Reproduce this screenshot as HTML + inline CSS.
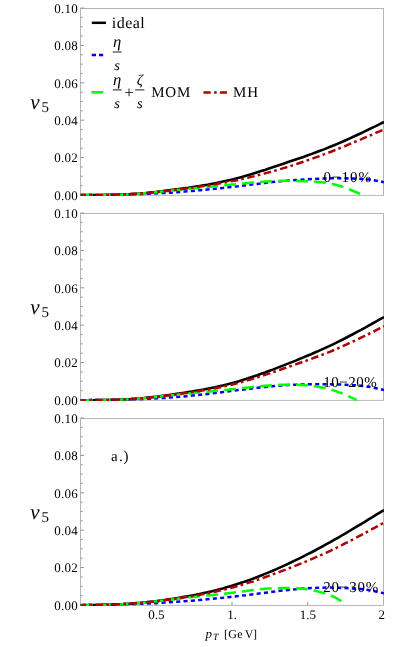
<!DOCTYPE html>
<html><head><meta charset="utf-8"><style>
html,body{margin:0;padding:0;background:#fff;}
svg{display:block;will-change:transform;}
text{font-family:"Liberation Serif",serif;fill:#000;text-rendering:geometricPrecision;}
.tk{font-size:13px;letter-spacing:0.3px;}
.lg{font-size:16px;}
.pc{font-size:15px;letter-spacing:0.5px;}
.it{font-size:15px;font-style:italic;}
</style></head><body>
<svg width="415" height="647" viewBox="0 0 415 647">
<rect width="415" height="647" fill="#fff"/>
<clipPath id="c0"><rect x="80.0" y="8.0" width="304.0" height="187.9"/></clipPath>
<g id="p0">
<rect x="80.5" y="8.5" width="303.0" height="186.9" fill="none" stroke="#b6b6b6" stroke-width="1"/>
<line x1="80.5" x2="84.1" y1="194.95" y2="194.95" stroke="#949494" stroke-width="1"/>
<text class="tk" x="78.1" y="199.80" text-anchor="end">0.00</text>
<line x1="80.5" x2="82.6" y1="185.61" y2="185.61" stroke="#949494" stroke-width="1"/>
<line x1="80.5" x2="82.6" y1="176.26" y2="176.26" stroke="#949494" stroke-width="1"/>
<line x1="80.5" x2="82.6" y1="166.92" y2="166.92" stroke="#949494" stroke-width="1"/>
<line x1="80.5" x2="84.1" y1="157.57" y2="157.57" stroke="#949494" stroke-width="1"/>
<text class="tk" x="78.1" y="162.42" text-anchor="end">0.02</text>
<line x1="80.5" x2="82.6" y1="148.23" y2="148.23" stroke="#949494" stroke-width="1"/>
<line x1="80.5" x2="82.6" y1="138.88" y2="138.88" stroke="#949494" stroke-width="1"/>
<line x1="80.5" x2="82.6" y1="129.54" y2="129.54" stroke="#949494" stroke-width="1"/>
<line x1="80.5" x2="84.1" y1="120.19" y2="120.19" stroke="#949494" stroke-width="1"/>
<text class="tk" x="78.1" y="125.04" text-anchor="end">0.04</text>
<line x1="80.5" x2="82.6" y1="110.84" y2="110.84" stroke="#949494" stroke-width="1"/>
<line x1="80.5" x2="82.6" y1="101.50" y2="101.50" stroke="#949494" stroke-width="1"/>
<line x1="80.5" x2="82.6" y1="92.16" y2="92.16" stroke="#949494" stroke-width="1"/>
<line x1="80.5" x2="84.1" y1="82.81" y2="82.81" stroke="#949494" stroke-width="1"/>
<text class="tk" x="78.1" y="87.66" text-anchor="end">0.06</text>
<line x1="80.5" x2="82.6" y1="73.47" y2="73.47" stroke="#949494" stroke-width="1"/>
<line x1="80.5" x2="82.6" y1="64.12" y2="64.12" stroke="#949494" stroke-width="1"/>
<line x1="80.5" x2="82.6" y1="54.78" y2="54.78" stroke="#949494" stroke-width="1"/>
<line x1="80.5" x2="84.1" y1="45.43" y2="45.43" stroke="#949494" stroke-width="1"/>
<text class="tk" x="78.1" y="50.28" text-anchor="end">0.08</text>
<line x1="80.5" x2="82.6" y1="36.08" y2="36.08" stroke="#949494" stroke-width="1"/>
<line x1="80.5" x2="82.6" y1="26.74" y2="26.74" stroke="#949494" stroke-width="1"/>
<line x1="80.5" x2="82.6" y1="17.39" y2="17.39" stroke="#949494" stroke-width="1"/>
<line x1="80.5" x2="84.1" y1="8.05" y2="8.05" stroke="#949494" stroke-width="1"/>
<text class="tk" x="78.1" y="12.90" text-anchor="end">0.10</text>
<text x="30.3" y="108.5" font-size="21" font-style="italic">v</text><text x="41.5" y="112.3" font-size="15">5</text>
<path d="M80.7,195.1 L84.5,195.1 L88.4,195.1 L92.2,195.1 L96.1,195.0 L99.9,195.0 L103.7,195.0 L107.6,194.9 L111.4,194.8 L115.3,194.7 L119.1,194.6 L122.9,194.5 L126.8,194.3 L130.6,194.1 L134.4,193.8 L138.3,193.6 L142.1,193.3 L146.0,193.0 L149.8,192.6 L153.6,192.2 L157.5,191.8 L161.3,191.4 L165.2,190.9 L169.0,190.4 L172.8,189.9 L176.7,189.4 L180.5,188.9 L184.4,188.3 L188.2,187.8 L192.0,187.2 L195.9,186.6 L199.7,186.0 L203.6,185.3 L207.4,184.7 L211.2,184.0 L215.1,183.2 L218.9,182.4 L222.8,181.6 L226.6,180.8 L230.4,179.9 L234.3,178.9 L238.1,177.9 L241.9,176.9 L245.8,175.8 L249.6,174.7 L253.5,173.5 L257.3,172.3 L261.1,171.1 L265.0,169.9 L268.8,168.6 L272.7,167.3 L276.5,166.0 L280.3,164.7 L284.2,163.4 L288.0,162.1 L291.9,160.8 L295.7,159.5 L299.5,158.2 L303.4,156.9 L307.2,155.5 L311.1,154.1 L314.9,152.7 L318.7,151.3 L322.6,149.9 L326.4,148.4 L330.3,146.8 L334.1,145.3 L337.9,143.6 L341.8,142.0 L345.6,140.3 L349.4,138.6 L353.3,136.8 L357.1,135.0 L361.0,133.2 L364.8,131.4 L368.6,129.5 L372.5,127.6 L376.3,125.8 L380.2,123.9 L384.0,122.0" fill="none" clip-path="url(#c0)" stroke="#000" stroke-width="2.6"/>
<path d="M80.7,195.1 L84.5,195.1 L88.4,195.1 L92.2,195.0 L96.1,195.0 L99.9,195.0 L103.7,194.9 L107.6,194.9 L111.4,194.8 L115.3,194.8 L119.1,194.7 L122.9,194.6 L126.8,194.5 L130.6,194.4 L134.4,194.3 L138.3,194.2 L142.1,194.1 L146.0,193.9 L149.8,193.7 L153.6,193.5 L157.5,193.3 L161.3,193.1 L165.2,192.9 L169.0,192.7 L172.8,192.4 L176.7,192.2 L180.5,191.9 L184.4,191.6 L188.2,191.3 L192.0,190.9 L195.9,190.6 L199.7,190.2 L203.6,189.9 L207.4,189.5 L211.2,189.1 L215.1,188.7 L218.9,188.3 L222.8,187.9 L226.6,187.5 L230.4,187.0 L234.3,186.6 L238.1,186.2 L241.9,185.7 L245.8,185.2 L249.6,184.8 L253.5,184.3 L257.3,183.9 L261.1,183.4 L265.0,183.0 L268.8,182.5 L272.7,182.1 L276.5,181.7 L280.3,181.3 L284.2,181.0 L288.0,180.6 L291.9,180.3 L295.7,180.0 L299.5,179.8 L303.4,179.5 L307.2,179.3 L311.1,179.1 L314.9,178.9 L318.7,178.7 L322.6,178.5 L326.4,178.4 L330.3,178.3 L334.1,178.2 L337.9,178.2 L341.8,178.2 L345.6,178.3 L349.4,178.4 L353.3,178.5 L357.1,178.7 L361.0,179.0 L364.8,179.2 L368.6,179.6 L372.5,180.1 L376.3,180.7 L380.2,181.4 L384.0,182.2" fill="none" clip-path="url(#c0)" stroke="#0000ff" stroke-width="2.5" stroke-dasharray="4.1 3.25"/>
<path d="M80.7,195.1 L84.2,195.1 L87.8,195.1 L91.3,195.1 L94.9,195.1 L98.4,195.1 L101.9,195.0 L105.5,195.0 L109.0,194.9 L112.6,194.9 L116.1,194.8 L119.6,194.7 L123.2,194.5 L126.7,194.4 L130.3,194.2 L133.8,194.0 L137.3,193.8 L140.9,193.5 L144.4,193.2 L148.0,192.9 L151.5,192.6 L155.1,192.3 L158.6,191.9 L162.1,191.6 L165.7,191.2 L169.2,190.9 L172.8,190.5 L176.3,190.1 L179.8,189.7 L183.4,189.4 L186.9,189.0 L190.5,188.6 L194.0,188.3 L197.5,187.9 L201.1,187.6 L204.6,187.2 L208.2,186.9 L211.7,186.5 L215.2,186.2 L218.8,185.9 L222.3,185.5 L225.9,185.2 L229.4,184.8 L232.9,184.5 L236.5,184.2 L240.0,183.8 L243.6,183.5 L247.1,183.1 L250.6,182.8 L254.2,182.5 L257.7,182.2 L261.3,181.9 L264.8,181.6 L268.3,181.4 L271.9,181.2 L275.4,181.0 L279.0,180.9 L282.5,180.8 L286.0,180.8 L289.6,180.8 L293.1,180.8 L296.7,180.9 L300.2,181.0 L303.8,181.2 L307.3,181.3 L310.8,181.5 L314.4,181.7 L317.9,181.9 L321.5,182.3 L325.0,182.7 L328.5,183.3 L332.1,184.0 L335.6,184.8 L339.2,185.8 L342.7,186.9 L346.2,188.2 L349.8,189.5 L353.3,191.0 L356.9,192.5 L360.4,194.0" fill="none" clip-path="url(#c0)" stroke="#00ff00" stroke-width="2.5" stroke-dasharray="11.9 6.1"/>
<path d="M80.7,195.1 L84.5,195.1 L88.4,195.1 L92.2,195.0 L96.1,195.0 L99.9,195.0 L103.7,194.9 L107.6,194.9 L111.4,194.8 L115.3,194.7 L119.1,194.6 L122.9,194.4 L126.8,194.3 L130.6,194.1 L134.4,193.9 L138.3,193.6 L142.1,193.3 L146.0,193.0 L149.8,192.7 L153.6,192.3 L157.5,191.9 L161.3,191.5 L165.2,191.1 L169.0,190.7 L172.8,190.2 L176.7,189.7 L180.5,189.3 L184.4,188.8 L188.2,188.2 L192.0,187.7 L195.9,187.2 L199.7,186.6 L203.6,186.0 L207.4,185.5 L211.2,184.8 L215.1,184.2 L218.9,183.5 L222.8,182.9 L226.6,182.2 L230.4,181.4 L234.3,180.7 L238.1,179.9 L241.9,179.0 L245.8,178.2 L249.6,177.3 L253.5,176.4 L257.3,175.4 L261.1,174.4 L265.0,173.4 L268.8,172.4 L272.7,171.3 L276.5,170.2 L280.3,169.1 L284.2,167.9 L288.0,166.8 L291.9,165.6 L295.7,164.3 L299.5,163.0 L303.4,161.8 L307.2,160.4 L311.1,159.1 L314.9,157.7 L318.7,156.3 L322.6,154.9 L326.4,153.4 L330.3,152.0 L334.1,150.5 L337.9,148.9 L341.8,147.4 L345.6,145.8 L349.4,144.2 L353.3,142.6 L357.1,141.0 L361.0,139.4 L364.8,137.7 L368.6,136.1 L372.5,134.4 L376.3,132.7 L380.2,131.1 L384.0,129.4" fill="none" clip-path="url(#c0)" stroke="#b00000" stroke-width="2.5" stroke-dasharray="7.6 3.2 2.7 3.5" stroke-dashoffset="2.2"/>
</g>
<clipPath id="c1"><rect x="80.0" y="213.0" width="304.0" height="187.9"/></clipPath>
<g id="p1">
<rect x="80.5" y="213.5" width="303.0" height="186.9" fill="none" stroke="#b6b6b6" stroke-width="1"/>
<line x1="80.5" x2="84.1" y1="399.95" y2="399.95" stroke="#949494" stroke-width="1"/>
<text class="tk" x="78.1" y="404.80" text-anchor="end">0.00</text>
<line x1="80.5" x2="82.6" y1="390.60" y2="390.60" stroke="#949494" stroke-width="1"/>
<line x1="80.5" x2="82.6" y1="381.26" y2="381.26" stroke="#949494" stroke-width="1"/>
<line x1="80.5" x2="82.6" y1="371.92" y2="371.92" stroke="#949494" stroke-width="1"/>
<line x1="80.5" x2="84.1" y1="362.57" y2="362.57" stroke="#949494" stroke-width="1"/>
<text class="tk" x="78.1" y="367.42" text-anchor="end">0.02</text>
<line x1="80.5" x2="82.6" y1="353.22" y2="353.22" stroke="#949494" stroke-width="1"/>
<line x1="80.5" x2="82.6" y1="343.88" y2="343.88" stroke="#949494" stroke-width="1"/>
<line x1="80.5" x2="82.6" y1="334.54" y2="334.54" stroke="#949494" stroke-width="1"/>
<line x1="80.5" x2="84.1" y1="325.19" y2="325.19" stroke="#949494" stroke-width="1"/>
<text class="tk" x="78.1" y="330.04" text-anchor="end">0.04</text>
<line x1="80.5" x2="82.6" y1="315.84" y2="315.84" stroke="#949494" stroke-width="1"/>
<line x1="80.5" x2="82.6" y1="306.50" y2="306.50" stroke="#949494" stroke-width="1"/>
<line x1="80.5" x2="82.6" y1="297.16" y2="297.16" stroke="#949494" stroke-width="1"/>
<line x1="80.5" x2="84.1" y1="287.81" y2="287.81" stroke="#949494" stroke-width="1"/>
<text class="tk" x="78.1" y="292.66" text-anchor="end">0.06</text>
<line x1="80.5" x2="82.6" y1="278.46" y2="278.46" stroke="#949494" stroke-width="1"/>
<line x1="80.5" x2="82.6" y1="269.12" y2="269.12" stroke="#949494" stroke-width="1"/>
<line x1="80.5" x2="82.6" y1="259.78" y2="259.78" stroke="#949494" stroke-width="1"/>
<line x1="80.5" x2="84.1" y1="250.43" y2="250.43" stroke="#949494" stroke-width="1"/>
<text class="tk" x="78.1" y="255.28" text-anchor="end">0.08</text>
<line x1="80.5" x2="82.6" y1="241.09" y2="241.09" stroke="#949494" stroke-width="1"/>
<line x1="80.5" x2="82.6" y1="231.74" y2="231.74" stroke="#949494" stroke-width="1"/>
<line x1="80.5" x2="82.6" y1="222.40" y2="222.40" stroke="#949494" stroke-width="1"/>
<line x1="80.5" x2="84.1" y1="213.05" y2="213.05" stroke="#949494" stroke-width="1"/>
<text class="tk" x="78.1" y="217.90" text-anchor="end">0.10</text>
<text x="30.3" y="313.5" font-size="21" font-style="italic">v</text><text x="41.5" y="317.3" font-size="15">5</text>
<path d="M80.7,400.2 L84.5,400.2 L88.4,400.2 L92.2,400.2 L96.1,400.1 L99.9,400.1 L103.7,400.1 L107.6,400.0 L111.4,399.9 L115.3,399.8 L119.1,399.7 L122.9,399.5 L126.8,399.3 L130.6,399.1 L134.4,398.8 L138.3,398.5 L142.1,398.2 L146.0,397.8 L149.8,397.4 L153.6,397.0 L157.5,396.6 L161.3,396.1 L165.2,395.6 L169.0,395.0 L172.8,394.5 L176.7,393.9 L180.5,393.3 L184.4,392.7 L188.2,392.1 L192.0,391.5 L195.9,390.8 L199.7,390.2 L203.6,389.5 L207.4,388.7 L211.2,388.0 L215.1,387.2 L218.9,386.3 L222.8,385.4 L226.6,384.5 L230.4,383.5 L234.3,382.5 L238.1,381.4 L241.9,380.3 L245.8,379.1 L249.6,377.8 L253.5,376.5 L257.3,375.2 L261.1,373.8 L265.0,372.5 L268.8,371.0 L272.7,369.6 L276.5,368.1 L280.3,366.6 L284.2,365.1 L288.0,363.6 L291.9,362.1 L295.7,360.6 L299.5,359.0 L303.4,357.4 L307.2,355.8 L311.1,354.2 L314.9,352.5 L318.7,350.9 L322.6,349.1 L326.4,347.4 L330.3,345.6 L334.1,343.8 L337.9,341.9 L341.8,340.0 L345.6,338.0 L349.4,336.0 L353.3,334.0 L357.1,331.9 L361.0,329.9 L364.8,327.8 L368.6,325.6 L372.5,323.5 L376.3,321.4 L380.2,319.2 L384.0,317.1" fill="none" clip-path="url(#c1)" stroke="#000" stroke-width="2.6"/>
<path d="M80.7,400.2 L84.5,400.2 L88.4,400.1 L92.2,400.1 L96.1,400.1 L99.9,400.0 L103.7,400.0 L107.6,399.9 L111.4,399.9 L115.3,399.8 L119.1,399.7 L122.9,399.6 L126.8,399.5 L130.6,399.4 L134.4,399.3 L138.3,399.2 L142.1,399.0 L146.0,398.9 L149.8,398.7 L153.6,398.5 L157.5,398.3 L161.3,398.1 L165.2,397.9 L169.0,397.6 L172.8,397.3 L176.7,397.0 L180.5,396.7 L184.4,396.4 L188.2,396.0 L192.0,395.6 L195.9,395.2 L199.7,394.8 L203.6,394.4 L207.4,393.9 L211.2,393.5 L215.1,393.0 L218.9,392.5 L222.8,392.1 L226.6,391.6 L230.4,391.1 L234.3,390.6 L238.1,390.1 L241.9,389.7 L245.8,389.2 L249.6,388.7 L253.5,388.2 L257.3,387.8 L261.1,387.4 L265.0,387.0 L268.8,386.6 L272.7,386.2 L276.5,385.9 L280.3,385.6 L284.2,385.3 L288.0,385.0 L291.9,384.8 L295.7,384.7 L299.5,384.5 L303.4,384.4 L307.2,384.3 L311.1,384.2 L314.9,384.2 L318.7,384.2 L322.6,384.2 L326.4,384.3 L330.3,384.3 L334.1,384.4 L337.9,384.5 L341.8,384.6 L345.6,384.8 L349.4,385.0 L353.3,385.2 L357.1,385.4 L361.0,385.7 L364.8,386.2 L368.6,386.7 L372.5,387.4 L376.3,388.2 L380.2,389.1 L384.0,390.0" fill="none" clip-path="url(#c1)" stroke="#0000ff" stroke-width="2.5" stroke-dasharray="4.1 3.25"/>
<path d="M80.7,400.2 L84.2,400.2 L87.7,400.2 L91.2,400.2 L94.7,400.2 L98.2,400.2 L101.7,400.1 L105.2,400.1 L108.6,400.0 L112.1,399.9 L115.6,399.9 L119.1,399.7 L122.6,399.6 L126.1,399.4 L129.6,399.2 L133.1,399.0 L136.6,398.8 L140.1,398.5 L143.6,398.2 L147.1,397.9 L150.6,397.5 L154.1,397.2 L157.6,396.8 L161.1,396.4 L164.5,396.1 L168.0,395.7 L171.5,395.3 L175.0,394.9 L178.5,394.5 L182.0,394.1 L185.5,393.7 L189.0,393.4 L192.5,393.0 L196.0,392.7 L199.5,392.4 L203.0,392.0 L206.5,391.7 L210.0,391.4 L213.5,391.0 L217.0,390.7 L220.4,390.4 L223.9,390.0 L227.4,389.7 L230.9,389.3 L234.4,389.0 L237.9,388.6 L241.4,388.2 L244.9,387.8 L248.4,387.4 L251.9,387.1 L255.4,386.7 L258.9,386.3 L262.4,386.0 L265.9,385.7 L269.4,385.4 L272.9,385.2 L276.3,385.0 L279.8,384.8 L283.3,384.7 L286.8,384.7 L290.3,384.7 L293.8,384.7 L297.3,384.8 L300.8,385.0 L304.3,385.2 L307.8,385.5 L311.3,385.9 L314.8,386.3 L318.3,386.8 L321.8,387.4 L325.3,388.1 L328.8,389.0 L332.2,390.0 L335.7,391.1 L339.2,392.3 L342.7,393.7 L346.2,395.2 L349.7,396.8 L353.2,398.4 L356.7,400.0" fill="none" clip-path="url(#c1)" stroke="#00ff00" stroke-width="2.5" stroke-dasharray="11.9 6.1"/>
<path d="M80.7,400.2 L84.5,400.2 L88.4,400.2 L92.2,400.1 L96.1,400.1 L99.9,400.1 L103.7,400.0 L107.6,400.0 L111.4,399.9 L115.3,399.8 L119.1,399.6 L122.9,399.5 L126.8,399.3 L130.6,399.1 L134.4,398.8 L138.3,398.6 L142.1,398.2 L146.0,397.9 L149.8,397.5 L153.6,397.1 L157.5,396.7 L161.3,396.3 L165.2,395.8 L169.0,395.3 L172.8,394.8 L176.7,394.3 L180.5,393.8 L184.4,393.2 L188.2,392.7 L192.0,392.1 L195.9,391.5 L199.7,390.9 L203.6,390.3 L207.4,389.7 L211.2,389.0 L215.1,388.3 L218.9,387.5 L222.8,386.7 L226.6,385.9 L230.4,385.0 L234.3,384.0 L238.1,383.0 L241.9,382.0 L245.8,380.9 L249.6,379.8 L253.5,378.6 L257.3,377.4 L261.1,376.1 L265.0,374.9 L268.8,373.6 L272.7,372.3 L276.5,371.0 L280.3,369.7 L284.2,368.3 L288.0,367.0 L291.9,365.7 L295.7,364.4 L299.5,363.0 L303.4,361.7 L307.2,360.3 L311.1,358.9 L314.9,357.5 L318.7,356.1 L322.6,354.6 L326.4,353.1 L330.3,351.6 L334.1,350.0 L337.9,348.3 L341.8,346.6 L345.6,344.9 L349.4,343.2 L353.3,341.4 L357.1,339.6 L361.0,337.7 L364.8,335.8 L368.6,334.0 L372.5,332.1 L376.3,330.1 L380.2,328.2 L384.0,326.3" fill="none" clip-path="url(#c1)" stroke="#b00000" stroke-width="2.5" stroke-dasharray="7.6 3.2 2.7 3.5" stroke-dashoffset="2.2"/>
</g>
<clipPath id="c2"><rect x="80.0" y="418.0" width="304.0" height="187.9"/></clipPath>
<g id="p2">
<rect x="80.5" y="418.5" width="303.0" height="186.9" fill="none" stroke="#b6b6b6" stroke-width="1"/>
<line x1="80.5" x2="84.1" y1="604.95" y2="604.95" stroke="#949494" stroke-width="1"/>
<text class="tk" x="78.1" y="609.80" text-anchor="end">0.00</text>
<line x1="80.5" x2="82.6" y1="595.60" y2="595.60" stroke="#949494" stroke-width="1"/>
<line x1="80.5" x2="82.6" y1="586.26" y2="586.26" stroke="#949494" stroke-width="1"/>
<line x1="80.5" x2="82.6" y1="576.91" y2="576.91" stroke="#949494" stroke-width="1"/>
<line x1="80.5" x2="84.1" y1="567.57" y2="567.57" stroke="#949494" stroke-width="1"/>
<text class="tk" x="78.1" y="572.42" text-anchor="end">0.02</text>
<line x1="80.5" x2="82.6" y1="558.22" y2="558.22" stroke="#949494" stroke-width="1"/>
<line x1="80.5" x2="82.6" y1="548.88" y2="548.88" stroke="#949494" stroke-width="1"/>
<line x1="80.5" x2="82.6" y1="539.53" y2="539.53" stroke="#949494" stroke-width="1"/>
<line x1="80.5" x2="84.1" y1="530.19" y2="530.19" stroke="#949494" stroke-width="1"/>
<text class="tk" x="78.1" y="535.04" text-anchor="end">0.04</text>
<line x1="80.5" x2="82.6" y1="520.84" y2="520.84" stroke="#949494" stroke-width="1"/>
<line x1="80.5" x2="82.6" y1="511.50" y2="511.50" stroke="#949494" stroke-width="1"/>
<line x1="80.5" x2="82.6" y1="502.16" y2="502.16" stroke="#949494" stroke-width="1"/>
<line x1="80.5" x2="84.1" y1="492.81" y2="492.81" stroke="#949494" stroke-width="1"/>
<text class="tk" x="78.1" y="497.66" text-anchor="end">0.06</text>
<line x1="80.5" x2="82.6" y1="483.46" y2="483.46" stroke="#949494" stroke-width="1"/>
<line x1="80.5" x2="82.6" y1="474.12" y2="474.12" stroke="#949494" stroke-width="1"/>
<line x1="80.5" x2="82.6" y1="464.78" y2="464.78" stroke="#949494" stroke-width="1"/>
<line x1="80.5" x2="84.1" y1="455.43" y2="455.43" stroke="#949494" stroke-width="1"/>
<text class="tk" x="78.1" y="460.28" text-anchor="end">0.08</text>
<line x1="80.5" x2="82.6" y1="446.08" y2="446.08" stroke="#949494" stroke-width="1"/>
<line x1="80.5" x2="82.6" y1="436.74" y2="436.74" stroke="#949494" stroke-width="1"/>
<line x1="80.5" x2="82.6" y1="427.40" y2="427.40" stroke="#949494" stroke-width="1"/>
<line x1="80.5" x2="84.1" y1="418.05" y2="418.05" stroke="#949494" stroke-width="1"/>
<text class="tk" x="78.1" y="422.90" text-anchor="end">0.10</text>
<line x1="156.25" x2="156.25" y1="605.4" y2="602.0" stroke="#949494" stroke-width="1"/>
<text class="tk" x="156.25" y="619.2" text-anchor="middle" style="letter-spacing:0px">0.5</text>
<line x1="232.00" x2="232.00" y1="605.4" y2="602.0" stroke="#949494" stroke-width="1"/>
<text class="tk" x="232.00" y="619.2" text-anchor="middle" style="letter-spacing:0px">1.</text>
<line x1="307.75" x2="307.75" y1="605.4" y2="602.0" stroke="#949494" stroke-width="1"/>
<text class="tk" x="307.75" y="619.2" text-anchor="middle" style="letter-spacing:0px">1.5</text>
<text class="tk" x="381.8" y="619.3" text-anchor="middle">2</text>
<text x="30.3" y="518.5" font-size="21" font-style="italic">v</text><text x="41.5" y="522.3" font-size="15">5</text>
<path d="M80.7,605.2 L84.5,605.1 L88.4,605.1 L92.2,605.0 L96.1,605.0 L99.9,604.9 L103.7,604.8 L107.6,604.7 L111.4,604.6 L115.3,604.4 L119.1,604.2 L122.9,604.1 L126.8,603.8 L130.6,603.6 L134.4,603.3 L138.3,603.0 L142.1,602.7 L146.0,602.3 L149.8,601.9 L153.6,601.5 L157.5,601.0 L161.3,600.5 L165.2,600.0 L169.0,599.4 L172.8,598.9 L176.7,598.2 L180.5,597.6 L184.4,596.9 L188.2,596.2 L192.0,595.5 L195.9,594.8 L199.7,594.0 L203.6,593.1 L207.4,592.3 L211.2,591.4 L215.1,590.4 L218.9,589.4 L222.8,588.4 L226.6,587.3 L230.4,586.2 L234.3,585.0 L238.1,583.8 L241.9,582.6 L245.8,581.2 L249.6,579.9 L253.5,578.5 L257.3,577.0 L261.1,575.5 L265.0,573.9 L268.8,572.4 L272.7,570.7 L276.5,569.1 L280.3,567.4 L284.2,565.6 L288.0,563.8 L291.9,562.0 L295.7,560.2 L299.5,558.3 L303.4,556.4 L307.2,554.4 L311.1,552.5 L314.9,550.5 L318.7,548.4 L322.6,546.3 L326.4,544.2 L330.3,542.1 L334.1,539.9 L337.9,537.8 L341.8,535.5 L345.6,533.3 L349.4,531.0 L353.3,528.7 L357.1,526.4 L361.0,524.1 L364.8,521.8 L368.6,519.4 L372.5,517.1 L376.3,514.7 L380.2,512.4 L384.0,510.0" fill="none" clip-path="url(#c2)" stroke="#000" stroke-width="2.6"/>
<path d="M80.7,605.2 L84.5,605.1 L88.4,605.1 L92.2,605.0 L96.1,605.0 L99.9,604.9 L103.7,604.8 L107.6,604.7 L111.4,604.7 L115.3,604.6 L119.1,604.5 L122.9,604.4 L126.8,604.3 L130.6,604.1 L134.4,604.0 L138.3,603.9 L142.1,603.7 L146.0,603.6 L149.8,603.4 L153.6,603.2 L157.5,603.0 L161.3,602.8 L165.2,602.6 L169.0,602.3 L172.8,602.1 L176.7,601.8 L180.5,601.6 L184.4,601.3 L188.2,601.0 L192.0,600.7 L195.9,600.3 L199.7,600.0 L203.6,599.7 L207.4,599.3 L211.2,598.9 L215.1,598.5 L218.9,598.2 L222.8,597.8 L226.6,597.3 L230.4,596.9 L234.3,596.5 L238.1,596.1 L241.9,595.6 L245.8,595.2 L249.6,594.7 L253.5,594.2 L257.3,593.8 L261.1,593.3 L265.0,592.8 L268.8,592.3 L272.7,591.8 L276.5,591.3 L280.3,590.8 L284.2,590.4 L288.0,589.9 L291.9,589.5 L295.7,589.2 L299.5,588.8 L303.4,588.5 L307.2,588.3 L311.1,588.1 L314.9,587.9 L318.7,587.8 L322.6,587.7 L326.4,587.6 L330.3,587.6 L334.1,587.7 L337.9,587.8 L341.8,587.9 L345.6,588.1 L349.4,588.3 L353.3,588.5 L357.1,588.8 L361.0,589.1 L364.8,589.5 L368.6,590.1 L372.5,590.8 L376.3,591.6 L380.2,592.5 L384.0,593.4" fill="none" clip-path="url(#c2)" stroke="#0000ff" stroke-width="2.5" stroke-dasharray="4.1 3.25"/>
<path d="M80.7,605.2 L84.0,605.2 L87.3,605.2 L90.6,605.1 L93.9,605.1 L97.2,605.0 L100.6,605.0 L103.9,604.9 L107.2,604.9 L110.5,604.8 L113.8,604.7 L117.1,604.5 L120.4,604.4 L123.7,604.2 L127.0,604.0 L130.3,603.8 L133.6,603.6 L137.0,603.3 L140.3,603.0 L143.6,602.7 L146.9,602.4 L150.2,602.0 L153.5,601.6 L156.8,601.3 L160.1,600.9 L163.4,600.5 L166.7,600.1 L170.0,599.7 L173.3,599.3 L176.7,598.9 L180.0,598.5 L183.3,598.1 L186.6,597.7 L189.9,597.3 L193.2,597.0 L196.5,596.6 L199.8,596.3 L203.1,596.0 L206.4,595.6 L209.7,595.3 L213.1,594.9 L216.4,594.6 L219.7,594.2 L223.0,593.9 L226.3,593.5 L229.6,593.1 L232.9,592.7 L236.2,592.3 L239.5,591.8 L242.8,591.4 L246.1,591.0 L249.5,590.5 L252.8,590.1 L256.1,589.7 L259.4,589.3 L262.7,589.0 L266.0,588.7 L269.3,588.5 L272.6,588.4 L275.9,588.2 L279.2,588.2 L282.5,588.1 L285.8,588.1 L289.2,588.1 L292.5,588.2 L295.8,588.3 L299.1,588.4 L302.4,588.7 L305.7,589.1 L309.0,589.6 L312.3,590.2 L315.6,590.9 L318.9,591.7 L322.2,592.6 L325.6,593.7 L328.9,594.8 L332.2,596.2 L335.5,597.7 L338.8,599.6 L342.1,601.5" fill="none" clip-path="url(#c2)" stroke="#00ff00" stroke-width="2.5" stroke-dasharray="11.9 6.1"/>
<path d="M80.7,605.2 L84.5,605.1 L88.4,605.1 L92.2,605.0 L96.1,604.9 L99.9,604.9 L103.7,604.8 L107.6,604.7 L111.4,604.5 L115.3,604.4 L119.1,604.2 L122.9,604.0 L126.8,603.8 L130.6,603.6 L134.4,603.3 L138.3,603.0 L142.1,602.7 L146.0,602.3 L149.8,601.9 L153.6,601.5 L157.5,601.1 L161.3,600.6 L165.2,600.1 L169.0,599.6 L172.8,599.1 L176.7,598.5 L180.5,597.9 L184.4,597.3 L188.2,596.7 L192.0,596.1 L195.9,595.4 L199.7,594.7 L203.6,594.0 L207.4,593.3 L211.2,592.5 L215.1,591.7 L218.9,590.8 L222.8,589.9 L226.6,589.0 L230.4,588.0 L234.3,587.0 L238.1,585.9 L241.9,584.8 L245.8,583.6 L249.6,582.4 L253.5,581.2 L257.3,579.9 L261.1,578.6 L265.0,577.2 L268.8,575.9 L272.7,574.5 L276.5,573.0 L280.3,571.6 L284.2,570.1 L288.0,568.7 L291.9,567.2 L295.7,565.6 L299.5,564.1 L303.4,562.5 L307.2,561.0 L311.1,559.3 L314.9,557.7 L318.7,556.0 L322.6,554.3 L326.4,552.6 L330.3,550.8 L334.1,549.0 L337.9,547.1 L341.8,545.2 L345.6,543.2 L349.4,541.3 L353.3,539.3 L357.1,537.2 L361.0,535.2 L364.8,533.1 L368.6,531.0 L372.5,528.9 L376.3,526.8 L380.2,524.7 L384.0,522.6" fill="none" clip-path="url(#c2)" stroke="#b00000" stroke-width="2.5" stroke-dasharray="7.6 3.2 2.7 3.5" stroke-dashoffset="2.2"/>
</g>
<text class="pc" x="323.6" y="182.0" style="letter-spacing:1px">0−10%</text>
<text class="pc" x="323.2" y="387.0">10−20%</text>
<text class="pc" x="323.3" y="592.0" style="letter-spacing:0.8px">20−30%</text>
<text x="110.9" y="461.2" font-size="15" dx="0 1.5 0.7">a.)</text>
<line x1="91.8" x2="106" y1="22.8" y2="22.8" stroke="#000" stroke-width="2.5"/>
<text class="lg" x="111.7" y="28.2" style="letter-spacing:0.5px">ideal</text>
<path d="M91.7,55 h4.3 m3.0,0 h4.2" stroke="#0000ff" stroke-width="2.4" fill="none"/>
<text x="117.2" y="47.0" text-anchor="middle" font-size="16.6" font-style="italic">η</text><line x1="112.8" x2="121.6" y1="52.0" y2="52.0" stroke="#000" stroke-width="0.9"/><text x="117.2" y="69.8" text-anchor="middle" font-size="14.5" font-style="italic">s</text>
<line x1="91.4" x2="103.2" y1="92.3" y2="92.3" stroke="#00ff00" stroke-width="2.5"/>
<text x="117.2" y="84.9" text-anchor="middle" font-size="16.6" font-style="italic">η</text><line x1="112.8" x2="121.6" y1="89.9" y2="89.9" stroke="#000" stroke-width="0.9"/><text x="117.2" y="107.7" text-anchor="middle" font-size="14.5" font-style="italic">s</text>
<text x="129.1" y="98.4" font-size="17" text-anchor="middle">+</text>
<text x="139.8" y="84.9" text-anchor="middle" font-size="15" font-style="italic">ζ</text><line x1="135.1" x2="144.4" y1="89.9" y2="89.9" stroke="#000" stroke-width="0.9"/><text x="139.8" y="107.7" text-anchor="middle" font-size="14.5" font-style="italic">s</text>
<text x="151.2" y="97.4" font-size="15" style="letter-spacing:0.8px">MOM</text>
<path d="M203.5,92.4 h7.2 m3.4,0 h2.6 m3.2,0 h7.1" stroke="#b00000" stroke-width="2.5" fill="none"/>
<text x="232.9" y="97.4" font-size="15" style="letter-spacing:0.9px">MH</text>
<text x="205.4" y="638.2" font-size="13" font-style="italic">p</text>
<text x="212.9" y="640.3" font-size="9.5" font-style="italic">T</text>
<text x="223.9" y="638.2" font-size="12" dx="0 0.4 0.35 2.0 -0.35">[GeV]</text>
</svg>
</body></html>
